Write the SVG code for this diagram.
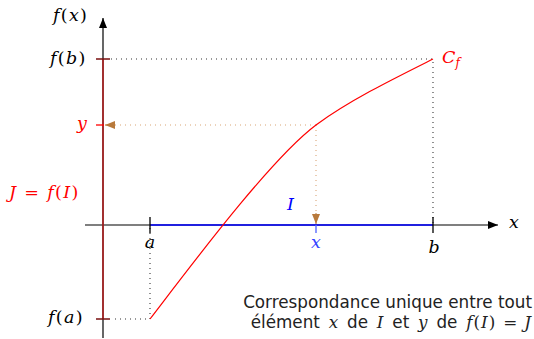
<svg xmlns="http://www.w3.org/2000/svg" width="534" height="339" viewBox="0 0 534 339">
<style>
.m{font-family:"DejaVu Serif","Liberation Serif",serif;font-style:italic;font-size:17.5px}
.w{letter-spacing:1.3px}
.n{font-style:normal}
.s{font-family:"DejaVu Sans","Liberation Sans",sans-serif;font-size:16.8px;fill:#222}
.si{font-family:"DejaVu Serif","Liberation Serif",serif;font-style:italic}
.sr{font-family:"DejaVu Serif","Liberation Serif",serif}
.dot{stroke:#333;stroke-width:1.1;stroke-dasharray:1 4;fill:none}
.bdot{stroke:#d9a577;stroke-width:1.1;stroke-dasharray:1 4;fill:none}
</style>
<defs>
<marker id="ah" markerWidth="10" markerHeight="8" refX="10" refY="4" orient="auto" markerUnits="userSpaceOnUse"><path d="M0,0 L10,4 L0,8 Z" fill="#000"/></marker>
<marker id="bh" markerWidth="10" markerHeight="8" refX="10" refY="4" orient="auto" markerUnits="userSpaceOnUse"><path d="M0,0 L10,4 L0,8 Z" fill="#b87a3c"/></marker>
</defs>
<g id="connectors">
<path class="dot" d="M111,59 H433 V224"/>
<path class="dot" d="M150,228 V319 H111"/>
<path class="bdot" d="M316,125 H113"/>
<path d="M113,125 H105" stroke="#b87a3c" stroke-width="1" marker-end="url(#bh)"/>
<path class="bdot" d="M316,125 V213"/>
<path d="M316,213 V224" stroke="#b87a3c" stroke-width="1" marker-end="url(#bh)"/>
</g>
<g id="x-axis">
<path d="M85,225 H498" stroke="#000" stroke-width="1.2" marker-end="url(#ah)"/>
<path d="M150,225 H433" stroke="#0000ff" stroke-width="1.6"/>
<path d="M150,217 V233 M433,217 V233" stroke="#000" stroke-width="1.3"/>
<path d="M316,225 V233" stroke="#5a6cff" stroke-width="1.4"/>
<text class="m" x="509" y="228">x</text>
</g>
<g id="y-axis">
<path d="M103,338 V18" stroke="#000" stroke-width="1.2" marker-end="url(#ah)"/>
<path d="M103,59 V319" stroke="#b22222" stroke-width="1.6"/>
<path d="M96,59 H110 M96,319 H110" stroke="#7a1010" stroke-width="1.6"/>
<path d="M96,125 H104" stroke="#ff0000" stroke-width="1.3"/>
</g>
<g id="curve">
<path d="M150,319 C190,267 270,159.5 316,125 C350,100 395,78 433,59" stroke="#ff0000" stroke-width="1.2" fill="none"/>
</g>
<g id="labels">
<text class="m w" x="53" y="21">f<tspan class="n">(</tspan>x<tspan class="n">)</tspan></text>
<text class="m w" x="50" y="64">f<tspan class="n">(</tspan>b<tspan class="n">)</tspan></text>
<text class="m w" x="48" y="323">f<tspan class="n">(</tspan>a<tspan class="n">)</tspan></text>
<text class="m" x="87" y="129" text-anchor="end" fill="#ff0000">y</text>
<text class="m w" x="9" y="198" fill="#ff0000">J<tspan class="n" dx="7">=</tspan><tspan dx="7">f</tspan><tspan class="n">(</tspan>I<tspan class="n">)</tspan></text>
<text class="m" x="150" y="248" text-anchor="middle">a</text>
<text class="m" x="316" y="248" text-anchor="middle" fill="#3344ff">x</text>
<text class="m" x="434" y="253" text-anchor="middle">b</text>
<text class="m" x="287" y="210" fill="#0000ff">I</text>
<text class="m" x="442" y="63" fill="#ff0000" font-size="19">C<tspan font-size="12" dy="4">f</tspan></text>
</g>
<g id="caption">
<text class="s" x="532" y="308" text-anchor="end">Correspondance unique entre tout</text>
<text class="s" x="531" y="328" text-anchor="end" word-spacing="3.5">élément <tspan class="si">x</tspan> de <tspan class="si">I</tspan> et <tspan class="si">y</tspan> de <tspan class="si" letter-spacing="1">f</tspan><tspan class="sr" letter-spacing="1">(</tspan><tspan class="si" letter-spacing="1">I</tspan><tspan class="sr" letter-spacing="1">)</tspan><tspan class="sr" dx="7">=</tspan><tspan class="si" dx="7">J</tspan></text>
</g>
</svg>
